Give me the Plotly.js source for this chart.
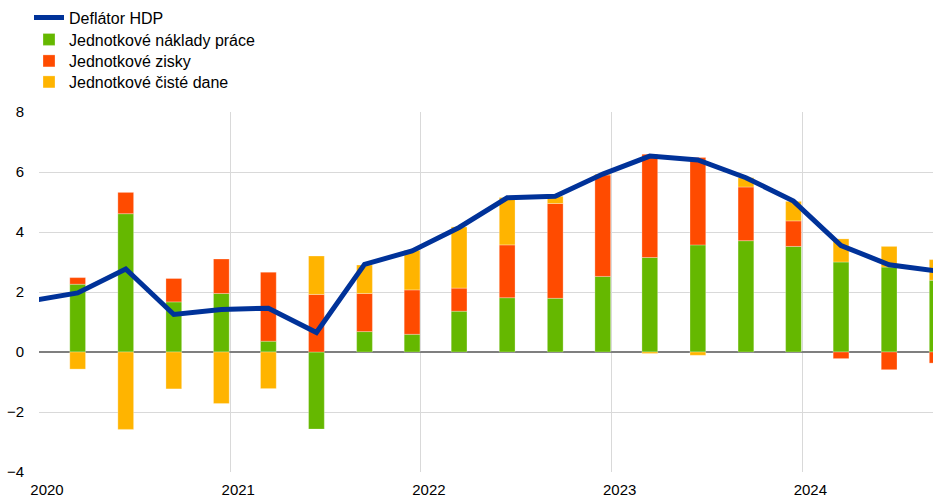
<!DOCTYPE html>
<html>
<head>
<meta charset="utf-8">
<script src="https://cdn.plot.ly/plotly-3.0.1.min.js"></script>
<style>html,body{margin:0;padding:0;background:#fff;}#chart{width:933px;height:497px;}</style>
</head>
<body>
<div id="chart"></div>
<script>
// Quarters (first one is only partly visible at the left edge)
const quarters = ["2019-Q4","2020-Q1","2020-Q2","2020-Q3","2020-Q4","2021-Q1","2021-Q2","2021-Q3","2021-Q4",
  "2022-Q1","2022-Q2","2022-Q3","2022-Q4","2023-Q1","2023-Q2","2023-Q3","2023-Q4","2024-Q1","2024-Q2","2024-Q3"];

const deflator   = [1.70, 1.97, 2.77, 1.25, 1.42, 1.46, 0.65, 2.92, 3.37, 4.15, 5.14, 5.19, 5.93, 6.53, 6.40, 5.81, 5.03, 3.55, 2.91, 2.70];
const labourCost = [1.20, 2.26, 4.61, 1.67, 1.95, 0.36, -2.57, 0.68, 0.59, 1.36, 1.81, 1.79, 2.52, 3.15, 3.57, 3.71, 3.52, 3.00, 2.83, 2.39];
const profits    = [0.15, 0.22, 0.71, 0.78, 1.15, 2.30, 1.92, 1.27, 1.48, 0.77, 1.76, 3.16, 3.38, 3.44, 2.91, 1.79, 0.85, -0.22, -0.59, -0.37];
const netTaxes   = [0.30, -0.57, -2.58, -1.23, -1.72, -1.22, 1.28, 0.95, 1.32, 2.04, 1.58, 0.24, 0.03, -0.05, -0.11, 0.31, 0.65, 0.77, 0.69, 0.69];

const seriesNames = ["Deflátor HDP", "Jednotkové náklady práce", "Jednotkové zisky", "Jednotkové čisté dane"];
const yearTicks = ["2020-01-01","2021-01-01","2022-01-01","2023-01-01","2024-01-01"];
const yearLabels = ["2020","2021","2022","2023","2024"];

// quarter -> date in the middle of the quarter's last month
function qDate(q) {
  const y = q.slice(0, 4), n = +q.slice(6);
  const m = String(n * 3).padStart(2, "0");
  return y + "-" + m + "-15";
}
const xDates = quarters.map(qDate);

const font = "Arial, 'Liberation Sans', sans-serif";
const barLine = {width: 0.8, color: "rgba(255,255,255,0.35)"};

const traces = [
  {type: "scatter", mode: "lines", name: seriesNames[0], x: xDates, y: deflator,
   line: {color: "#003299", width: 5}, legend: "legend"},
  {type: "bar", name: seriesNames[1], x: xDates, y: labourCost, marker: {color: "#65B800", line: barLine}, legend: "legend2"},
  {type: "bar", name: seriesNames[2], x: xDates, y: profits, marker: {color: "#FF4B00", line: barLine}, legend: "legend3"},
  {type: "bar", name: seriesNames[3], x: xDates, y: netTaxes, marker: {color: "#FFB400", line: barLine}, legend: "legend4"}
];

function legendAt(centerPx) {
  return {xref: "container", yref: "container", x: 29 / 933, y: 1 - centerPx / 497,
          xanchor: "left", yanchor: "middle", orientation: "v",
          font: {family: font, size: 16, color: "#000"}, bgcolor: "rgba(0,0,0,0)", borderwidth: 0};
}

const layout = {
  width: 933, height: 497,
  margin: {l: 39, r: 0, t: 112, b: 25, autoexpand: false},
  paper_bgcolor: "#fff", plot_bgcolor: "#fff",
  barmode: "relative", bargap: 0.665,
  font: {family: font, size: 15, color: "#000"},
  showlegend: true,
  legend: legendAt(17.5),
  legend2: legendAt(39.5),
  legend3: legendAt(61),
  legend4: legendAt(82),
  xaxis: {type: "date", range: ["2020-01-01", "2024-09-07"], tickmode: "array",
          tickvals: yearTicks, ticktext: yearLabels, showgrid: true, gridcolor: "#d9d9d9", gridwidth: 1,
          zeroline: false, showline: false, ticks: "", ticklabelshift: 8, ticklabelstandoff: 7,
          tickfont: {family: font, size: 15, color: "#000"}},
  yaxis: {range: [-4, 8], tickmode: "array", tickvals: [-4, -2, 0, 2, 4, 6, 8],
          showgrid: true, gridcolor: "#d9d9d9", gridwidth: 1,
          zeroline: true, zerolinecolor: "#7f7f7f", zerolinewidth: 1.5,
          showline: false, ticks: "", ticklabelstandoff: 14,
          tickfont: {family: font, size: 15, color: "#000"}}
};

Plotly.newPlot("chart", traces, layout, {displayModeBar: false, staticPlot: true});
</script>
</body>
</html>
